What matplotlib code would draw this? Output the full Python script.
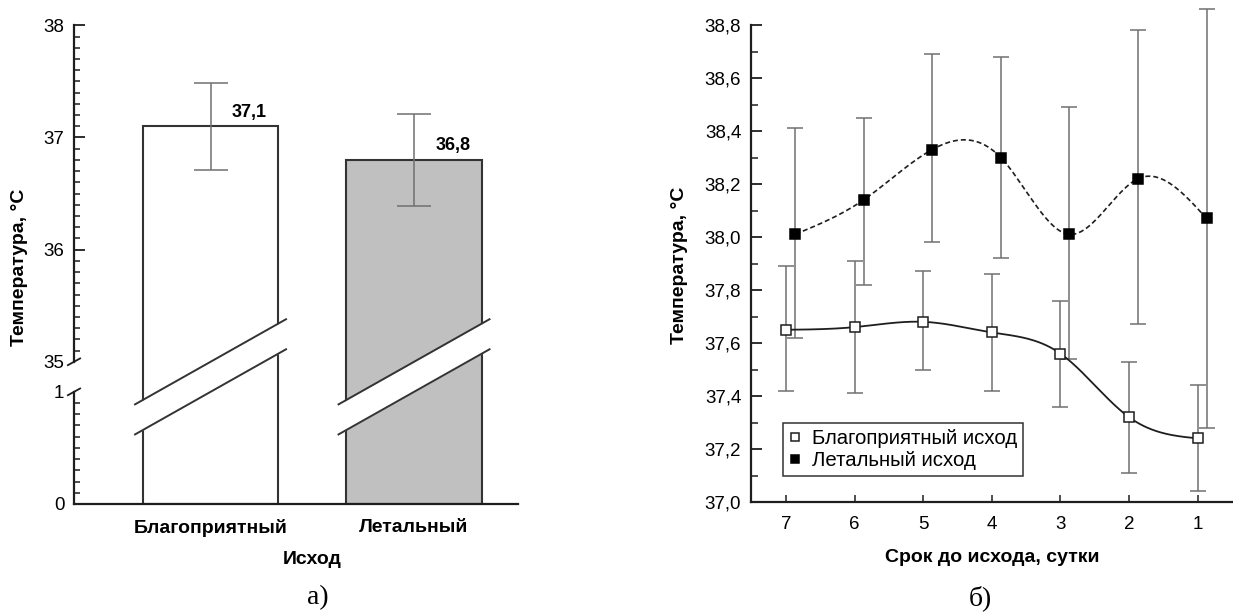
import numpy as np
import matplotlib.pyplot as plt

plt.rcParams['font.family'] = ['Liberation Sans', 'DejaVu Sans']

# средняя температура по исходу
outcomes = ['Благоприятный', 'Летальный']
mean_temp = [37.1, 36.8]
mean_err = [0.39, 0.41]
mean_labels = ['37,1', '36,8']

# динамика температуры за 7 суток до исхода
days = [7, 6, 5, 4, 3, 2, 1]
good_temp = [37.65, 37.66, 37.68, 37.64, 37.56, 37.32, 37.24]
good_lo = [0.23, 0.25, 0.18, 0.22, 0.20, 0.21, 0.20]
good_hi = [0.24, 0.25, 0.19, 0.22, 0.20, 0.21, 0.20]
fatal_temp = [38.01, 38.14, 38.33, 38.30, 38.01, 38.22, 38.07]
fatal_lo = [0.39, 0.32, 0.35, 0.38, 0.47, 0.55, 0.79]
fatal_hi = [0.40, 0.31, 0.36, 0.38, 0.48, 0.56, 0.79]

W, H = 1233, 616
DARK = '#1e1e1e'
ERR = '#707070'
GAP = 0.268  # разрыв оси между 1 и 35


def fold(v):
    # 0..1 остаётся как есть, 35..38 сдвигается вниз к разрыву
    v = np.asarray(v, dtype=float)
    return np.where(v <= 1, v, v - 35 + 1 + GAP)


def natural_spline(x, y, num=300):
    x = np.asarray(x, float)
    y = np.asarray(y, float)
    order = np.argsort(x)
    x, y = x[order], y[order]
    n = len(x)
    h = np.diff(x)
    A = np.zeros((n, n))
    r = np.zeros(n)
    A[0, 0] = A[-1, -1] = 1
    for i in range(1, n - 1):
        A[i, i - 1] = h[i - 1]
        A[i, i] = 2 * (h[i - 1] + h[i])
        A[i, i + 1] = h[i]
        r[i] = 6 * ((y[i + 1] - y[i]) / h[i] - (y[i] - y[i - 1]) / h[i - 1])
    M = np.linalg.solve(A, r)
    xs = np.linspace(x[0], x[-1], num)
    idx = np.clip(np.searchsorted(x, xs) - 1, 0, n - 2)
    x0, x1 = x[idx], x[idx + 1]
    hh = x1 - x0
    t0, t1 = xs - x0, x1 - xs
    ys = ((M[idx] * t1 ** 3 + M[idx + 1] * t0 ** 3) / (6 * hh)
          + (y[idx] / hh - M[idx] * hh / 6) * t1
          + (y[idx + 1] / hh - M[idx + 1] * hh / 6) * t0)
    return xs, ys


fig = plt.figure(figsize=(W / 100, H / 100), dpi=100)

# ---------- а) столбцы ----------
ax1 = fig.add_axes([74 / W, 1 - 504 / H, 444 / W, 480 / H])
xl, xr = -0.671, 1.511
ax1.set_xlim(xl, xr)
ax1.set_ylim(0, 4.28)
xpos = np.arange(len(outcomes))
bar_w = 0.664

ax1.bar(xpos, fold(mean_temp), width=bar_w, color=['white', '#c0c0c0'],
        edgecolor='#333333', linewidth=1.5, zorder=2)
ax1.errorbar(xpos, fold(mean_temp), yerr=mean_err, fmt='none', ecolor=ERR,
             elinewidth=1.1, capsize=12, capthick=1.1, zorder=5)
for c, v, lbl in zip(xpos, mean_temp, mean_labels):
    ax1.annotate(lbl, (c + 0.19, fold(v)), xytext=(0, 7), textcoords='offset points',
                 ha='center', va='baseline', fontsize=13, fontweight='bold')

# косой разрыв на столбцах
slope = 1.023
for c in xpos:
    bx = np.array([c - 0.371, c + 0.371])
    up = fold(35) + slope * (bx - c)
    lo = 1.0 + slope * (bx - c)
    ax1.fill_between(bx, lo, up, color='white', lw=0, zorder=3)
    ax1.plot(bx, up, color='#333333', lw=1.4, zorder=4)
    ax1.plot(bx, lo, color='#333333', lw=1.4, zorder=4)

# левая ось рисуется двумя кусками
for s in ['top', 'right', 'left']:
    ax1.spines[s].set_visible(False)
ax1.spines['bottom'].set_linewidth(1.6)
ax1.spines['bottom'].set_color(DARK)
ax1.plot([xl, xl], [0, 1], color=DARK, lw=1.6, clip_on=False)
ax1.plot([xl, xl], [fold(35), fold(38)], color=DARK, lw=1.6, clip_on=False)
for yb in [1.0, float(fold(35))]:
    ax1.plot([xl - 0.03, xl + 0.03], [yb - 0.03, yb + 0.03], color=DARK, lw=1.3,
             clip_on=False)

major = [0, 1, 35, 36, 37, 38]
ax1.set_yticks(fold(major), [str(m) for m in major])
minor = [m for m in np.r_[np.arange(0, 1.0001, 0.1), np.arange(35, 38.0001, 0.1)]
         if abs(m - round(m)) > 1e-6]
ax1.set_yticks(fold(minor), minor=True)
ax1.tick_params(axis='y', which='major', direction='in', length=8, width=1.3,
                color=DARK, labelsize=13.5, pad=7)
ax1.tick_params(axis='y', which='minor', direction='in', length=4.5, width=1.1,
                color=DARK)
ticks = ax1.yaxis.get_major_ticks()
ticks[1].tick1line.set_visible(False)
ticks[2].tick1line.set_visible(False)
ax1.set_xticks(xpos, outcomes, fontweight='bold')
ax1.tick_params(axis='x', length=0, labelsize=14, pad=11)

fig.text(20 / W, 1 - 267 / H, 'Температура, °C', rotation=90, ha='center',
         va='center', fontsize=14, fontweight='bold')
fig.text(312 / W, 1 - 559 / H, 'Исход', ha='center', va='center', fontsize=14,
         fontweight='bold')
fig.text(318 / W, 1 - 598 / H, 'а)', ha='center', va='center', fontsize=20,
         family=['Liberation Serif', 'DejaVu Serif'])

# ---------- б) динамика ----------
ax2 = fig.add_axes([751 / W, 1 - 502 / H, 481 / W, 495.5 / H])
ax2.set_xlim(7.51, 0.50)
ax2.set_ylim(37.0, 38.87)
shift = 0.13
fatal_x = np.array(days) - shift

ax2.errorbar(days, good_temp, yerr=[good_lo, good_hi], fmt='none', ecolor=ERR,
             elinewidth=1.1, capsize=6, capthick=1.1, zorder=2, clip_on=False)
ax2.errorbar(fatal_x, fatal_temp, yerr=[fatal_lo, fatal_hi], fmt='none', ecolor=ERR,
             elinewidth=1.1, capsize=6, capthick=1.1, zorder=2, clip_on=False)

gx, gy = natural_spline(days, good_temp)
ax2.plot(gx, gy, color=DARK, lw=1.3, zorder=3)
fx, fy = natural_spline(fatal_x, fatal_temp)
ax2.plot(fx, fy, color=DARK, lw=1.2, dashes=(3, 1.8), zorder=3)

ax2.plot(days, good_temp, 's', ms=7, mfc='white', mec=DARK, mew=1.1, ls='none',
         zorder=4, label='Благоприятный исход')
ax2.plot(fatal_x, fatal_temp, 's', ms=7, mfc='black', mec='black', mew=1.1,
         ls='none', zorder=4, label='Летальный исход', clip_on=False)

for s in ['top', 'right']:
    ax2.spines[s].set_visible(False)
for s in ['left', 'bottom']:
    ax2.spines[s].set_linewidth(1.6)
    ax2.spines[s].set_color(DARK)
ax2.spines['left'].set_bounds(37.0, 38.8)

yt = np.arange(37.0, 38.81, 0.2)
ax2.set_yticks(yt, [f'{v:.1f}'.replace('.', ',') for v in yt])
ax2.set_yticks(np.arange(37.1, 38.8, 0.2), minor=True)
ax2.set_xticks(days, [str(d) for d in days])
ax2.tick_params(axis='y', which='major', direction='in', length=8, width=1.3,
                color=DARK, labelsize=13.5, pad=7)
ax2.tick_params(axis='y', which='minor', direction='in', length=5, width=1.1,
                color=DARK)
ax2.tick_params(axis='x', direction='in', length=5, width=1.1, color=DARK,
                labelsize=13.5, pad=10)

leg = ax2.legend(loc='lower left', bbox_to_anchor=(0.0665, 0.0526),
                 borderaxespad=0, fontsize=14.7, handlelength=0.6, handletextpad=0.5,
                 borderpad=0.3, labelspacing=0.12, fancybox=False, framealpha=1,
                 edgecolor='#333333', markerscale=0.85)
leg.get_frame().set_linewidth(1.1)

fig.text(680 / W, 1 - 265 / H, 'Температура, °C', rotation=90, ha='center',
         va='center', fontsize=14, fontweight='bold')
fig.text(992 / W, 1 - 558 / H, 'Срок до исхода, сутки', ha='center', va='center',
         fontsize=14, fontweight='bold')
fig.text(980 / W, 1 - 598 / H, 'б)', ha='center', va='center', fontsize=20,
         family=['Liberation Serif', 'DejaVu Serif'])

plt.savefig('out.png', dpi=100)
plt.close()
